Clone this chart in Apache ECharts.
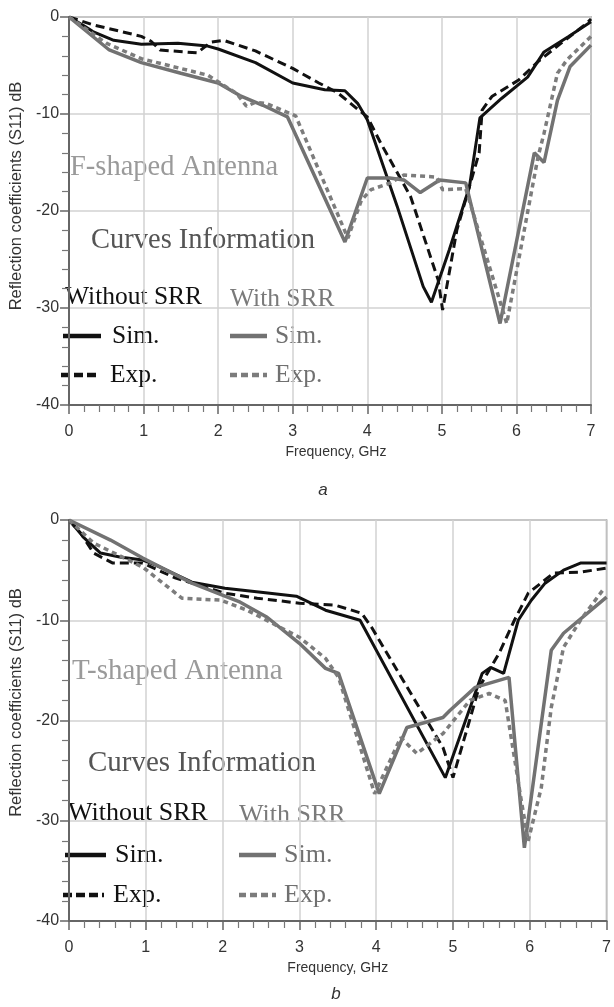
<!DOCTYPE html>
<html><head><meta charset="utf-8">
<script src="https://cdn.jsdelivr.net/npm/echarts@6/dist/echarts.min.js"></script>
<style>html,body{margin:0;padding:0;background:#fff}#c{width:614px;height:1007px}</style>
</head><body><div id="c"></div>
<script>
// ---------- data (frequency GHz, S11 dB) ----------
const xTickValues = [0, 1, 2, 3, 4, 5, 6, 7];
const yTickValues = [0, -10, -20, -30, -40];

// (a) F-shaped antenna
const aWithoutSim = [[0,0],[0.2,-0.9],[0.32,-1.5],[0.6,-2.4],[0.97,-2.8],[1.46,-2.7],[1.86,-3.0],[2.0,-3.3],[2.5,-4.7],[3.0,-6.8],[3.43,-7.5],[3.7,-7.6],[3.87,-8.9],[4.0,-10.6],[4.4,-19.5],[4.75,-27.8],[4.86,-29.4],[5.1,-24],[5.37,-17.5],[5.51,-10.4],[5.8,-8.4],[6.15,-6.2],[6.37,-3.6],[6.7,-2.0],[7.0,-0.5]];
const aWithoutExp = [[0,0],[0.32,-0.8],[0.97,-2.0],[1.1,-2.5],[1.22,-3.4],[1.72,-3.7],[1.9,-2.6],[2.07,-2.4],[2.5,-3.5],[3.0,-5.3],[3.35,-6.8],[3.6,-7.8],[3.87,-9.5],[4.0,-10.3],[4.18,-13],[4.58,-18.5],[4.95,-27.1],[5.01,-30.2],[5.2,-22],[5.5,-14],[5.54,-9.6],[5.67,-8.2],[6.03,-6.5],[6.29,-4.6],[6.6,-2.7],[6.95,-0.6],[7.0,-0.2]];
const aWithSim = [[0,0],[0.54,-3.4],[0.97,-4.7],[1.5,-5.8],[2.0,-6.8],[2.29,-8.1],[2.6,-9.1],[2.93,-10.3],[3.7,-23.2],[4.0,-16.6],[4.3,-16.6],[4.49,-16.8],[4.71,-18.1],[4.97,-16.8],[5.32,-17.1],[5.78,-31.6],[6.24,-14],[6.37,-15],[6.55,-8.6],[6.72,-5.1],[7.0,-2.9]];
const aWithExp = [[0,0],[0.5,-2.7],[0.97,-4.3],[1.86,-6.0],[2.25,-7.9],[2.38,-9.2],[2.5,-8.8],[2.64,-8.9],[2.95,-9.9],[3.04,-10.2],[3.74,-22.8],[3.92,-18.9],[4.05,-17.8],[4.31,-17.1],[4.49,-16.3],[4.93,-16.5],[5.01,-17.8],[5.32,-17.7],[5.87,-31.6],[6.29,-14.4],[6.37,-12],[6.55,-5.8],[6.68,-4.4],[7.0,-2.0]];

// (b) T-shaped antenna
const bWithoutSim = [[0,0],[0.2,-1.8],[0.41,-3.3],[0.66,-3.7],[0.96,-4.0],[1.13,-4.5],[1.6,-6.2],[2.03,-6.8],[2.5,-7.2],[2.96,-7.6],[3.34,-9.0],[3.79,-10],[4.9,-25.7],[5.38,-15.3],[5.49,-14.7],[5.66,-15.3],[5.85,-10],[6.02,-8.0],[6.2,-6.3],[6.44,-5.0],[6.66,-4.3],[7.0,-4.3]];
const bWithoutExp = [[0,0],[0.15,-1.3],[0.32,-3.3],[0.57,-4.3],[0.96,-4.3],[1.39,-5.8],[2.03,-7.3],[2.45,-7.8],[3.0,-8.3],[3.47,-8.5],[3.81,-9.3],[3.94,-10.7],[4.87,-22.7],[5.0,-25.7],[5.34,-16.7],[5.6,-13.3],[5.8,-10],[5.98,-7.3],[6.31,-5.3],[6.66,-5.2],[7.0,-4.8]];
const bWithSim = [[0,0],[0.54,-2.0],[0.96,-3.8],[1.6,-6.3],[2.23,-8.2],[2.58,-9.7],[3.0,-12.3],[3.34,-14.8],[3.51,-15.3],[4.04,-27.3],[4.4,-20.7],[4.87,-19.7],[4.96,-19],[5.29,-16.7],[5.73,-15.7],[5.93,-32.7],[6.28,-13],[6.44,-11.3],[7.0,-7.7]];
const bWithExp = [[0,0],[0.32,-2.3],[0.96,-4.7],[1.47,-7.8],[1.98,-8.0],[2.32,-9.0],[3.0,-11.7],[3.34,-13.8],[3.51,-15.7],[3.98,-27.3],[4.32,-21.7],[4.53,-23.3],[4.87,-21.3],[5.22,-18],[5.47,-17.3],[5.68,-18],[5.89,-28],[5.98,-32],[6.15,-26.7],[6.28,-18.7],[6.44,-12.7],[6.66,-10],[6.95,-7.0]];

const panelTitles = ['F-shaped Antenna', 'T-shaped Antenna'];
const panelCaptions = ['a', 'b'];
const xName = 'Frequency, GHz';
const yName = 'Reflection coefficients (S11) dB';

// ---------- styles ----------
const BLACK = '#111111', GRAY = '#727272', GRAYD = '#7c7c7c';
const sans = "'Liberation Sans', Arial, sans-serif";
const serif = "'Liberation Serif', 'Times New Roman', serif";

function xAx(gi, namePadX) {
  return {
    gridIndex: gi, type: 'value', min: 0, max: 7, interval: 1,
    name: xName, nameLocation: 'middle', nameGap: 40,
    nameTextStyle: {fontFamily: sans, fontSize: 14, color: '#333', padding: [0, 0, 0, namePadX]},
    axisLine: {show: true, onZero: false, lineStyle: {color: '#666', width: 2}},
    axisTick: {show: true, length: 9, lineStyle: {color: '#666', width: 1.5}},
    minorTick: {show: true, splitNumber: 5, length: 7, lineStyle: {color: '#777', width: 1.2}},
    axisLabel: {margin: 19, fontFamily: sans, fontSize: 16, color: '#333',
      formatter: v => xTickValues.includes(v) ? String(v) : ''},
    splitLine: {show: true, lineStyle: {color: '#d2d2d2', width: 1.5}},
  };
}
function yAx(gi, padUp) {
  return {
    gridIndex: gi, type: 'value', min: -40, max: 0, interval: 10,
    name: yName, nameLocation: 'middle', nameGap: 38, nameRotate: 90,
    nameTextStyle: {fontFamily: sans, fontSize: 16.5, color: '#333', padding: [0, 0, 0, padUp]},
    axisLine: {show: true, onZero: false, lineStyle: {color: '#666', width: 2}},
    axisTick: {show: true, length: 9, lineStyle: {color: '#666', width: 1.5}},
    minorTick: {show: true, splitNumber: 5, length: 7, lineStyle: {color: '#777', width: 1.2}},
    axisLabel: {margin: 10, fontFamily: sans, fontSize: 16, color: '#333',
      formatter: v => yTickValues.includes(v) ? String(v) : ''},
    splitLine: {show: true, lineStyle: {color: '#d2d2d2', width: 1.5}},
  };
}
function line(name, data, gi, color, dash, width) {
  return {
    name, type: 'line', xAxisIndex: gi, yAxisIndex: gi, data,
    showSymbol: false, symbol: 'none', smooth: false, animation: false,
    lineStyle: {color, width, type: dash || 'solid'}, z: 3,
  };
}

// ---------- legend / annotations (graphic) ----------
function txt(x, y, text, font, fill) {
  return {type: 'text', x, y, silent: true,
    style: {text, font, fill, textVerticalAlign: 'middle', verticalAlign: 'middle'}};
}
function seg(x1, x2, y, color, dash, w) {
  return {type: 'line', silent: true, shape: {x1, y1: y, x2, y2: y},
    style: {stroke: color, lineWidth: w, lineDash: dash || null}};
}
function panelGraphics(o) {
  return [
    txt(o.tx, o.ty, o.title, `${o.ts}px ${serif}`, '#9a9a9a'),
    txt(o.cx, o.cy, 'Curves Information', `${o.cs}px ${serif}`, '#555'),
    txt(o.wx, o.wy, 'Without SRR', `${o.ls}px ${serif}`, '#111'),
    txt(o.gx, o.wy + 2, 'With SRR', `${o.ls}px ${serif}`, '#7a7a7a'),
    seg(o.l1a, o.l1b, o.sy, BLACK, null, 4.5),
    txt(o.st, o.sy, 'Sim.', `${o.ls}px ${serif}`, '#111'),
    seg(o.l1a - 2, o.l1b - 2, o.ey, BLACK, [9, 4], 4.5),
    txt(o.st - 2, o.ey, 'Exp.', `${o.ls}px ${serif}`, '#111'),
    seg(o.gx, o.gx + 37, o.sy, GRAY, null, 4.5),
    txt(o.gx + 45, o.sy, 'Sim.', `${o.ls}px ${serif}`, '#707070'),
    seg(o.gx, o.gx + 37, o.ey, GRAYD, [7, 4], 4.5),
    txt(o.gx + 45, o.ey, 'Exp.', `${o.ls}px ${serif}`, '#707070'),
    {type: 'text', x: o.capx, y: o.capy, silent: true,
      style: {text: o.cap, font: `italic 17px ${sans}`, fill: '#333', textAlign: 'center', textVerticalAlign: 'middle', align: 'center', verticalAlign: 'middle'}},
  ];
}

const chart = echarts.init(document.getElementById('c'), null, {renderer: 'canvas'});
chart.setOption({
  animation: false,
  backgroundColor: '#fff',
  grid: [
    {left: 59, top: 17, width: 532, height: 388, show: true, borderColor: '#8a8a8a', borderWidth: 1.5, backgroundColor: 'transparent'},
    {left: 58, top: 520, width: 549, height: 401, show: true, borderColor: '#8a8a8a', borderWidth: 1.5, backgroundColor: 'transparent'},
  ],
  xAxis: [xAx(0, 12), xAx(1, 0)],
  yAxis: [yAx(0, 30), yAx(1, 36)],
  series: [
    line('Without SRR Sim. (a)', aWithoutSim, 0, BLACK, null, 3),
    line('Without SRR Exp. (a)', aWithoutExp, 0, BLACK, [9, 5], 3),
    line('With SRR Sim. (a)', aWithSim, 0, GRAY, null, 3.5),
    line('With SRR Exp. (a)', aWithExp, 0, GRAYD, [5, 4], 3.5),
    line('Without SRR Sim. (b)', bWithoutSim, 1, BLACK, null, 3),
    line('Without SRR Exp. (b)', bWithoutExp, 1, BLACK, [9, 5], 3),
    line('With SRR Sim. (b)', bWithSim, 1, GRAY, null, 3.5),
    line('With SRR Exp. (b)', bWithExp, 1, GRAYD, [5, 4], 3.5),
  ],
  graphic: [
    ...panelGraphics({title: panelTitles[0], tx: 70, ty: 168, ts: 28.5, cx: 91, cy: 241, cs: 28.5,
      wx: 65, wy: 297, gx: 230, ls: 25.5, l1a: 63, l1b: 101, st: 112, sy: 336, ey: 375,
      cap: panelCaptions[0], capx: 323, capy: 490}),
    ...panelGraphics({title: panelTitles[1], tx: 72, ty: 671, ts: 29, cx: 88, cy: 763, cs: 29,
      wx: 68, wy: 813, gx: 239, ls: 26, l1a: 65, l1b: 106, st: 115, sy: 855, ey: 895,
      cap: panelCaptions[1], capx: 336, capy: 994}),
  ],
});
</script>
</body></html>
